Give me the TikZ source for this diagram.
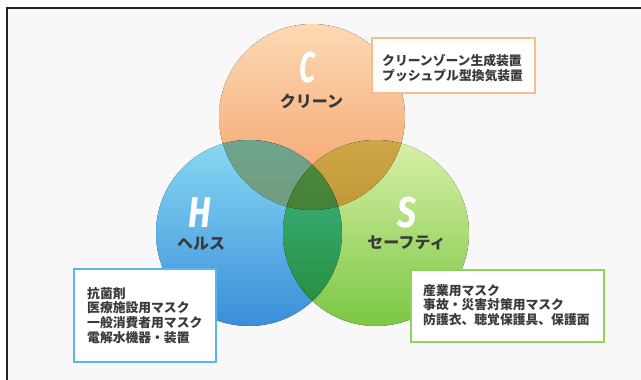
\documentclass[tikz,border=0pt]{standalone}
\usepackage{fontspec}
\setmainfont{Fira Sans}
\newfontfamily\jp{Noto Sans CJK JP}
\definecolor{bgray}{HTML}{F8F8F8}
\definecolor{frame}{HTML}{222222}
\definecolor{ctop}{HTML}{FCDAB3}
\definecolor{cbot}{HTML}{F49E68}
\definecolor{htop}{HTML}{88D9F3}
\definecolor{hbot}{HTML}{3A8ED9}
\definecolor{stop}{HTML}{D9F0AA}
\definecolor{sbot}{HTML}{7BC742}
\definecolor{chtop}{HTML}{6EA48C}
\definecolor{chbot}{HTML}{7A8E6A}
\definecolor{cstop}{HTML}{CDA646}
\definecolor{csbot}{HTML}{B3821E}
\definecolor{hstop}{HTML}{3EB98B}
\definecolor{hsbot}{HTML}{248937}
\definecolor{alltop}{HTML}{4C8C3C}
\definecolor{allbot}{HTML}{3A7030}
\definecolor{cbox}{HTML}{F9BC8E}
\definecolor{hbox}{HTML}{5AB6EE}
\definecolor{sbox}{HTML}{8FD45A}
\definecolor{txt}{HTML}{3A3A3A}
\tikzset{
  bigletter/.style={text=white, font=\fontsize{43}{43}\selectfont\bfseries\itshape, anchor=base, inner sep=0pt},
  cirlabel/.style={text=txt, font=\jp\fontsize{16}{16}\selectfont\bfseries, inner sep=0pt},
  infobox/.style={fill=white, line width=2pt},
  boxtext/.style={text=txt, font=\jp\fontsize{12.8}{14.8}\selectfont\bfseries, align=left, anchor=north west, inner sep=0pt}
}
\begin{document}
\begin{tikzpicture}[x=1pt,y=-1pt]
\useasboundingbox (0,0) rectangle (641,380);
\fill[white] (0,0) rectangle (641,380);
\fill[bgray] (7,8) rectangle (641,380);
\draw[frame, line width=2.2pt] (7,385) -- (7,8) -- (646,8);
% coordinates of circle centres
\coordinate (Cc) at (312,117);
\coordinate (Hc) at (249,233);
\coordinate (Sc) at (376,233);
% base circles
\fill[top color=ctop, bottom color=cbot] (Cc) circle[radius=93pt];
\fill[top color=htop, bottom color=hbot] (Hc) circle[radius=93pt];
\fill[top color=stop, bottom color=sbot] (Sc) circle[radius=93pt];
% pairwise overlaps
\begin{scope}
  \clip (Cc) circle[radius=93pt];
  \fill[top color=chtop, bottom color=chbot] (Hc) circle[radius=93pt];
\end{scope}
\begin{scope}
  \clip (Cc) circle[radius=93pt];
  \fill[top color=cstop, bottom color=csbot] (Sc) circle[radius=93pt];
\end{scope}
\begin{scope}
  \clip (Hc) circle[radius=93pt];
  \fill[top color=hstop, bottom color=hsbot] (Sc) circle[radius=93pt];
\end{scope}
% triple overlap
\begin{scope}
  \clip (Cc) circle[radius=93pt];
  \clip (Hc) circle[radius=93pt];
  \fill[top color=alltop, bottom color=allbot] (Sc) circle[radius=93pt];
\end{scope}
% letters and labels
\node[bigletter] (Cl) at (308,82) {\scalebox{0.66}[1]{C}};
\node[bigletter] (Hl) at (200,227) {\scalebox{0.8}[1]{H}};
\node[bigletter] (Sl) at (407,227) {\scalebox{0.78}[1]{S}};
\node[cirlabel] (Ct) at (311.5,101.5) {クリーン};
\node[cirlabel] (Ht) at (201,243.5) {ヘルス};
\node[cirlabel] (St) at (406.5,243) {セーフティ};
% info boxes
\draw[infobox, draw=cbox] (372,38) rectangle (535,93);
\draw[infobox, draw=hbox] (74,269) rectangle (216,362);
\draw[infobox, draw=sbox] (411,270) rectangle (604,342);
\node[boxtext] (Cb) at (382,54) {クリーンゾーン生成装置\\プッシュプル型換気装置};
\node[boxtext] (Hb) at (87,287) {抗菌剤\\医療施設用マスク\\一般消費者用マスク\\電解水機器・装置};
\node[boxtext] (Sb) at (423,284) {産業用マスク\\事故・災害対策用マスク\\防護衣、聴覚保護具、保護面};
\end{tikzpicture}
\end{document}
